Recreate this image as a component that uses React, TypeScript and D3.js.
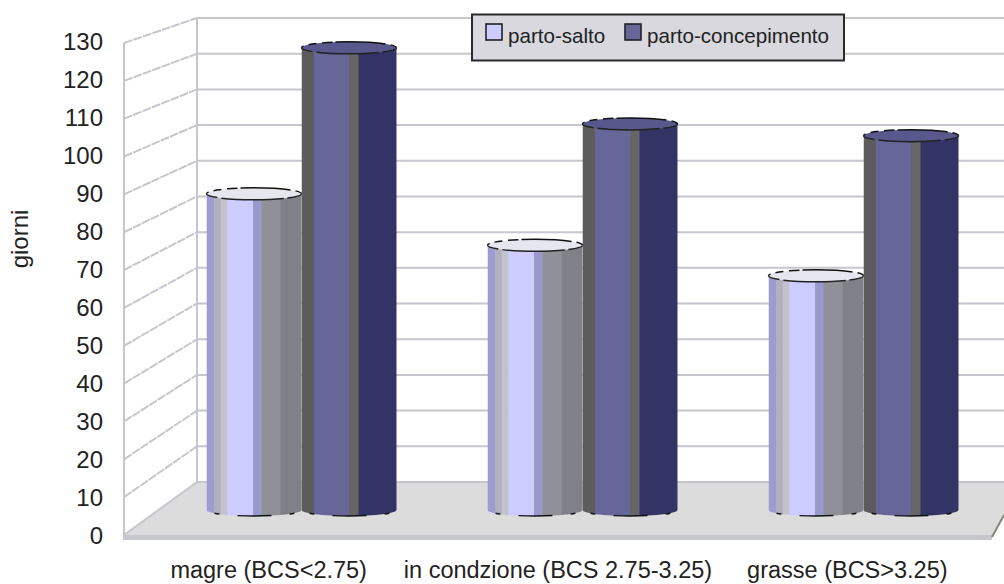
import React from "react";
import * as d3 from "d3";

const categories = ["magre (BCS<2.75)", "in condzione (BCS 2.75-3.25)", "grasse (BCS>3.25)"];
const seriesNames = ["parto-salto", "parto-concepimento"];
const partoSalto = [86, 72, 63.7];
const partoConcepimento = [125.7, 105, 101.8];
const yTicks = d3.range(0, 131, 10);

// Vertical shading of each cylinder: [fraction across the width, colour]
const lightStripes: [number, string][] = [
  [0, "#9c9cd0"], [0.08, "#b0b0be"], [0.15, "#c2c2cc"], [0.22, "#ccccff"],
  [0.49, "#9999cc"], [0.58, "#909098"], [0.78, "#808088"],
];
const darkStripes: [number, string][] = [
  [0, "#5c5c5c"], [0.13, "#666699"], [0.5, "#666666"], [0.6, "#333366"],
];
const capFill = ["#e6e6ee", "#58588c"];
const swatchFill = ["#ccccff", "#666699"];

const W = 1004;
const H = 584;
const font = "'Liberation Sans', Arial, sans-serif";
const xFrontLeft = 124;
const xBackLeft = 197;

const yBack = d3.scaleLinear().domain([0, 130]).range([482, 18]);
const yFront = d3.scaleLinear().domain([0, 130]).range([535, 43]);
const yLabel = d3.scaleLinear().domain([0, 130]).range([535, 41]);
const yBar = d3.scaleLinear().domain([0, 130]).range([510, 32]);
const xLabel = d3.scaleBand<string>().domain(categories).range([xFrontLeft, 992]);
const xGroup = d3.scaleBand<string>().domain(categories).range([161, 1004]);
const GROUP_W = 190;

const grid = "#c6c6ce";

function Cylinder({ id, x, w, top, bottom, stripes, cap }: {
  id: string; x: number; w: number; top: number; bottom: number; stripes: [number, string][]; cap: string;
}) {
  const rx = w / 2;
  const ry = 6;
  const body = `M${x},${top} L${x + w},${top} L${x + w},${bottom} A${rx},${ry} 0 0 1 ${x},${bottom} Z`;
  const lowerArc = `M${x},${bottom} A${rx},${ry} 0 0 0 ${x + w},${bottom}`;
  return (
    <g>
      <clipPath id={id}><path d={body} /></clipPath>
      <g clipPath={`url(#${id})`}>
        {stripes.map(([f, c], i) => {
          const next = i + 1 < stripes.length ? stripes[i + 1][0] : 1;
          return <rect key={i} x={x + f * w} y={top} width={(next - f) * w + 0.5} height={bottom - top + ry + 1} fill={c} />;
        })}
      </g>
      <path d={lowerArc} fill="none" stroke="#111" strokeWidth={1.5} strokeDasharray="0 9 5 13 0 5 34 5 0 13 5 9" />
      <ellipse cx={x + rx} cy={top} rx={rx} ry={ry} fill={cap} />
      <path d={`M${x},${top} A${rx},${ry} 0 0 1 ${x + w},${top}`} fill="none" stroke="#111" strokeWidth={1.5} strokeDasharray="3 5 8 6 10 3 50 5 8 50" />
      <path d={`M${x},${top} A${rx},${ry} 0 0 0 ${x + w},${top}`} fill="none" stroke="#222" strokeWidth={1.5} strokeDasharray="12 4 62 4 20" />
    </g>
  );
}

export default function App() {
  const rows = categories.map((c, i) => ({ c, a: partoSalto[i], b: partoConcepimento[i] }));
  return (
    <svg width={W} height={H} viewBox={`0 0 ${W} ${H}`} style={{ position: "absolute", left: 0, top: 0, display: "block", background: "#fff" }} fontFamily={font}>
      {/* floor */}
      <polygon points={`${xFrontLeft},535 ${xBackLeft},482 ${W},482 ${W},515 992,535`} fill="#dcdcdc" />
      <polygon points={`${xFrontLeft},535 992,535 992,540 ${xFrontLeft},540`} fill="#c6c6ce" />
      <line x1={992} y1={537} x2={W} y2={515} stroke="#84847c" strokeWidth={2} />
      <line x1={xBackLeft} y1={482} x2={W} y2={482} stroke={grid} strokeWidth={2} />
      <line x1={xFrontLeft} y1={535} x2={xBackLeft} y2={482} stroke={grid} strokeWidth={2} />

      {/* walls */}
      <line x1={xFrontLeft} y1={yFront(130)} x2={xFrontLeft} y2={540} stroke={grid} strokeWidth={2} />
      <line x1={xBackLeft} y1={yBack(130)} x2={xBackLeft} y2={482} stroke={grid} strokeWidth={2} />
      {yTicks.map((t) => (
        <g key={t}>
          {t > 0 && <line x1={xBackLeft} y1={yBack(t)} x2={W} y2={yBack(t)} stroke={grid} strokeWidth={2} />}
          {t > 0 && <line x1={xFrontLeft} y1={yFront(t)} x2={xBackLeft} y2={yBack(t)} stroke={grid} strokeWidth={2} strokeDasharray="9 1" />}
          <text x={103} y={yLabel(t)} dy="0.36em" textAnchor="end" fontSize={24} fill="#222">{t}</text>
        </g>
      ))}

      {/* cylinders */}
      {rows.map((r, i) => {
        const x0 = xGroup(r.c)! + (xGroup.bandwidth() - GROUP_W) / 2;
        const w = GROUP_W / 2;
        return (
          <g key={r.c}>
            <Cylinder id={`a${i}`} x={x0} w={w} top={yBar(r.a)} bottom={yBar(0)} stripes={lightStripes} cap={capFill[0]} />
            <Cylinder id={`b${i}`} x={x0 + w} w={w} top={yBar(r.b)} bottom={yBar(0)} stripes={darkStripes} cap={capFill[1]} />
          </g>
        );
      })}

      {/* category labels */}
      {categories.map((c) => (
        <text key={c} x={xLabel(c)! + xLabel.bandwidth() / 2} y={578} textAnchor="middle" fontSize={23.5} fill="#222">{c}</text>
      ))}

      <text transform="translate(28,239) rotate(-90)" textAnchor="middle" fontSize={24} fill="#222">giorni</text>

      {/* legend */}
      <rect x={472} y={14.5} width={372} height={46} fill="#d8d8de" stroke="#2a2a2a" strokeWidth={2} />
      {seriesNames.map((n, i) => {
        const sx = [486, 625][i];
        return (
          <g key={n}>
            <rect x={sx} y={24} width={16} height={16} fill={swatchFill[i]} stroke="#222" strokeWidth={1.6} />
            <text x={sx + 22} y={43} fontSize={20.6} fill="#222">{n}</text>
          </g>
        );
      })}
    </svg>
  );
}
